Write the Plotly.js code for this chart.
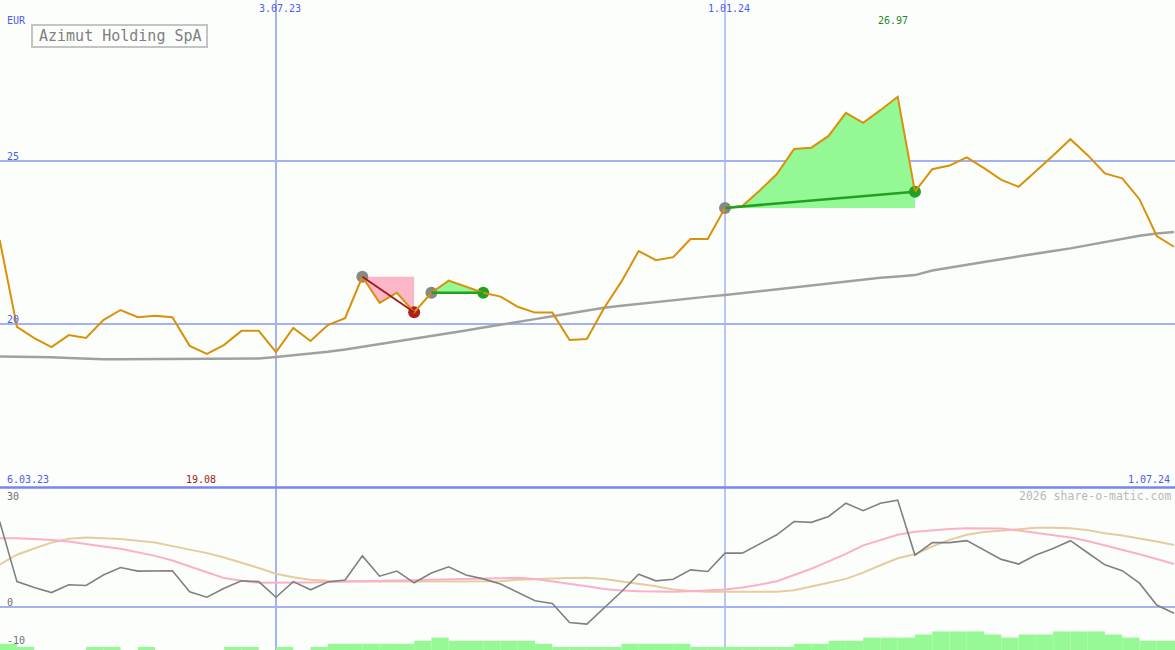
<!DOCTYPE html>
<html>
<head>
<meta charset="utf-8">
<script src="https://cdn.plot.ly/plotly-3.0.1.min.js"></script>
<style>
html,body{margin:0;padding:0;background:#fcfefc;}
#chart{width:1175px;height:650px;}
</style>
</head>
<body>
<div id="chart"></div>
<script>
// ---- data (weekly closes) ----
const dates = [
 "2023-03-13","2023-03-20","2023-03-27","2023-04-03","2023-04-10","2023-04-17","2023-04-24",
 "2023-05-01","2023-05-08","2023-05-15","2023-05-22","2023-05-29","2023-06-05","2023-06-12",
 "2023-06-19","2023-06-26","2023-07-03","2023-07-10","2023-07-17","2023-07-24","2023-07-31",
 "2023-08-07","2023-08-14","2023-08-21","2023-08-28","2023-09-04","2023-09-11","2023-09-18",
 "2023-09-25","2023-10-02","2023-10-09","2023-10-16","2023-10-23","2023-10-30","2023-11-06",
 "2023-11-13","2023-11-20","2023-11-27","2023-12-04","2023-12-11","2023-12-18","2023-12-25",
 "2024-01-01","2024-01-08","2024-01-15","2024-01-22","2024-01-29","2024-02-05","2024-02-12",
 "2024-02-19","2024-02-26","2024-03-04","2024-03-11","2024-03-18","2024-03-25","2024-04-01",
 "2024-04-08","2024-04-15","2024-04-22","2024-04-29","2024-05-06","2024-05-13","2024-05-20",
 "2024-05-27","2024-06-03","2024-06-10","2024-06-17","2024-06-24","2024-07-01"
];
const price = [
 22.58,19.91,19.57,19.29,19.66,19.57,20.12,20.43,20.21,20.25,20.21,19.33,19.08,19.36,
 19.79,19.79,19.14,19.88,19.48,19.97,20.18,21.45,20.65,20.96,20.36,20.96,21.33,21.14,
 20.96,20.84,20.53,20.35,20.35,19.51,19.54,20.49,21.30,22.24,21.96,22.05,22.61,22.61,
 23.56,23.62,24.09,24.60,25.37,25.41,25.77,26.48,26.17,26.56,26.97,24.06,24.75,24.86,
 25.11,24.78,24.42,24.21,24.68,25.17,25.67,25.18,24.62,24.47,23.83,22.70,22.37
];
const movingAvg = [
 19.00,19.00,19.00,18.98,18.96,18.93,18.92,18.92,18.92,18.92,18.92,18.92,18.92,18.92,
 18.93,18.94,18.99,19.04,19.10,19.15,19.22,19.30,19.38,19.47,19.56,19.64,19.72,19.80,
 19.89,19.97,20.06,20.15,20.24,20.33,20.42,20.50,20.56,20.62,20.67,20.73,20.78,20.84,
 20.89,20.95,21.01,21.07,21.13,21.19,21.25,21.31,21.37,21.42,21.46,21.50,21.64,21.72,
 21.82,21.90,21.99,22.08,22.16,22.24,22.32,22.42,22.52,22.62,22.71,22.78,22.82
];
const oscillator = [
 21.9,6.5,5.0,3.7,5.7,5.5,8.2,10.1,9.2,9.3,9.3,3.9,2.5,4.8,
 6.7,6.5,2.5,6.5,4.4,6.4,6.9,13.1,7.9,9.2,6.2,8.7,10.3,8.2,
 7.2,5.9,3.8,1.6,0.9,-4.0,-4.4,-0.3,3.9,8.4,6.7,7.1,9.5,9.1,
 13.8,13.8,16.2,18.5,21.9,21.7,23.2,26.6,24.7,26.6,27.4,13.3,16.5,16.5,
 17.0,14.6,12.2,11.0,13.3,15.0,17.0,13.9,10.8,9.3,6.1,0.5,-1.6
];
const signalPink = [
 17.6,17.6,17.4,17.2,16.8,16.1,15.5,14.9,14.0,13.1,11.9,10.3,8.9,7.4,
 6.7,6.2,6.2,6.2,6.3,6.4,6.5,6.6,6.7,6.8,6.9,7.0,7.1,7.2,
 7.3,7.4,7.5,7.2,6.6,6.0,5.3,4.6,4.2,4.0,3.9,3.9,4.0,4.2,
 4.5,5.0,5.7,6.6,8.2,9.8,11.7,13.6,15.8,17.2,18.5,19.3,19.7,20.0,
 20.2,20.2,20.1,19.6,19.0,18.4,17.8,16.9,15.8,14.6,13.5,12.3,11.0
];
const signalTan = [
 10.9,13.4,15.0,16.5,17.5,17.8,17.6,17.4,17.0,16.5,15.6,14.7,13.8,12.7,
 11.4,10.0,8.5,7.6,7.0,6.7,6.6,6.5,6.5,6.5,6.5,6.5,6.5,6.5,
 6.5,6.6,7.0,7.2,7.3,7.4,7.5,7.2,6.6,5.9,5.3,4.5,4.1,3.9,
 3.9,3.9,3.9,3.9,4.3,5.2,6.2,7.2,8.8,10.7,12.5,13.5,15.5,17.2,
 18.5,19.2,19.6,20.0,20.3,20.3,20.2,19.7,18.9,18.3,17.6,16.8,15.9
];
const volume = [
 2,1,0,0,0,1,1,0,1,0,0,0,0,1,1,0,1,0,1,2,2,2,2,2,3,4,3,3,3,3,3,2,
 1,1,1,1,2,2,2,2,1,1,1,1,1,1,2,2,3,3,4,4,4,5,6,6,6,5,4,5,5,6,6,6,5,4,3,3,3
];
const tradeStart = [21, 25, 42];
const tradeEnd   = [24, 28, 53];
const labels = {
  currency: "EUR", name: "Azimut Holding SpA",
  topTicks: ["3.07.23", "1.01.24"], priceTicks: ["25", "20"],
  startDate: "6.03.23", endDate: "1.07.24", maxLabel: "26.97", minLabel: "19.08",
  lowerTicks: ["30", "0", "-10"], credit: "2026 share-o-matic.com"
};

// ---- build traces ----
const W = 1175, H = 650;
const MONO = "DejaVu Sans Mono, monospace";
const traces = [];

// trade fills
tradeStart.forEach((s, i) => {
  const e = tradeEnd[i];
  const xs = [], ys = [];
  for (let k = s; k <= e; k++) { xs.push(dates[k]); ys.push(price[k]); }
  xs.push(dates[e]); ys.push(price[s]);
  xs.push(dates[s]); ys.push(price[s]);
  const gain = price[e] >= price[s];
  traces.push({x: xs, y: ys, type: 'scatter', mode: 'lines', fill: 'toself',
    fillcolor: gain ? '#94f894' : '#fbb6c8', line: {width: 0}, hoverinfo: 'skip',
    xaxis: 'x', yaxis: 'y'});
});

// long moving average
traces.push({x: dates, y: movingAvg, type: 'scatter', mode: 'lines',
  line: {color: '#a0a0a0', width: 2.5}, xaxis: 'x', yaxis: 'y'});

// trade markers
const mx = [], my = [], mc = [];
tradeStart.forEach((s, i) => {
  const e = tradeEnd[i];
  mx.push(dates[s]); my.push(price[s]); mc.push('#888888');
  mx.push(dates[e]); my.push(price[e]); mc.push(price[e] >= price[s] ? '#22a022' : '#b02020');
});
traces.push({x: mx, y: my, type: 'scatter', mode: 'markers',
  marker: {size: 12, color: mc, line: {width: 0}}, xaxis: 'x', yaxis: 'y'});

// price line
traces.push({x: dates, y: price, type: 'scatter', mode: 'lines',
  line: {color: '#d8920a', width: 2}, xaxis: 'x', yaxis: 'y'});

// trade connectors
tradeStart.forEach((s, i) => {
  const e = tradeEnd[i];
  const gain = price[e] >= price[s];
  traces.push({x: [dates[s], dates[e]], y: [price[s], price[e]], type: 'scatter', mode: 'lines',
    line: {color: gain ? '#22a022' : '#a01c1c', width: gain ? 2.5 : 2}, xaxis: 'x', yaxis: 'y'});
});

// lower panel
traces.push({x: dates.slice(0, volume.length), y: volume, type: 'bar',
  offset: 0, width: 7 * 86400000, marker: {color: '#96f996', line: {width: 0}},
  xaxis: 'x', yaxis: 'y3'});
traces.push({x: dates, y: signalTan, type: 'scatter', mode: 'lines',
  line: {color: '#e4cc9c', width: 2}, xaxis: 'x', yaxis: 'y2'});
traces.push({x: dates, y: signalPink, type: 'scatter', mode: 'lines',
  line: {color: '#fbb0c8', width: 2}, xaxis: 'x', yaxis: 'y2'});
traces.push({x: dates, y: oscillator, type: 'scatter', mode: 'lines',
  line: {color: '#808080', width: 1.6}, xaxis: 'x', yaxis: 'y2'});

// ---- layout ----
const px = (x) => x / W, py = (y) => 1 - y / H;
const ann = (text, x, y, anchor, color, size) => ({
  text, x: px(x), y: py(y), xref: 'paper', yref: 'paper', xanchor: anchor, yanchor: 'middle',
  showarrow: false, font: {family: MONO, size: size || 10, color: color || '#4a5cf2'}
});
const grid = '#a4b2f2';
const shapes = [
  {type: 'line', xref: 'x', yref: 'paper', x0: '2023-07-03', x1: '2023-07-03', y0: 0, y1: 1,
   line: {color: grid, width: 2}, layer: 'below'},
  {type: 'line', xref: 'x', yref: 'paper', x0: '2024-01-01', x1: '2024-01-01', y0: 0, y1: 1,
   line: {color: grid, width: 1.5}, layer: 'below'},
  {type: 'line', xref: 'paper', yref: 'y', x0: 0, x1: 1, y0: 25, y1: 25,
   line: {color: grid, width: 2}, layer: 'below'},
  {type: 'line', xref: 'paper', yref: 'y', x0: 0, x1: 1, y0: 20, y1: 20,
   line: {color: grid, width: 2}, layer: 'below'},
  {type: 'line', xref: 'paper', yref: 'y2', x0: 0, x1: 1, y0: 0, y1: 0,
   line: {color: grid, width: 2}, layer: 'below'},
  {type: 'line', xref: 'paper', yref: 'paper', x0: 0, x1: 1, y0: py(487.5), y1: py(487.5),
   line: {color: '#7886ee', width: 2.5}, layer: 'above'},
  {type: 'rect', xref: 'paper', yref: 'paper', x0: px(32), x1: px(207), y0: py(47), y1: py(25),
   line: {color: '#c4c4c4', width: 2}, fillcolor: '#fcfefc', layer: 'below'}
];
const annotations = [
  ann(labels.currency, 5, 20, 'left'),
  ann(labels.topTicks[0], 280, 9, 'center'),
  ann(labels.topTicks[1], 729, 9, 'center'),
  ann(labels.maxLabel, 893, 20, 'center', '#1e8a1e'),
  ann(labels.priceTicks[0], 5, 156, 'left'),
  ann(labels.priceTicks[1], 5, 319, 'left'),
  ann(labels.startDate, 5, 479, 'left'),
  ann(labels.minLabel, 201, 479, 'center', '#a01c1c'),
  ann(labels.endDate, 1172, 479, 'right'),
  ann(labels.credit, 1173, 496, 'right', '#b8b8b8', 11.5),
  ann(labels.lowerTicks[0], 5, 496, 'left', '#707070'),
  ann(labels.lowerTicks[1], 5, 602, 'left', '#707070'),
  ann(labels.lowerTicks[2], 5, 640, 'left', '#707070'),
  ann(labels.name, 37, 36.5, 'left', '#808080', 15)
];
const hidden = {showgrid: false, zeroline: false, showticklabels: false, ticks: '', showline: false, fixedrange: true};
const layout = {
  width: W, height: H, margin: {l: 0, r: 0, t: 0, b: 0, pad: 0},
  paper_bgcolor: '#fcfefc', plot_bgcolor: '#fcfefc', showlegend: false,
  hovermode: false,
  xaxis: Object.assign({type: 'date', range: ['2023-03-13 03:00', '2024-07-01 09:36'], anchor: 'y2'}, hidden),
  yaxis: Object.assign({domain: [163 / H, 1], range: [15.0, 29.94]}, hidden),
  yaxis2: Object.assign({domain: [0, 162 / H], range: [-11.03, 30.5]}, hidden),
  yaxis3: Object.assign({overlaying: 'y2', range: [0, 52.3]}, hidden),
  shapes, annotations
};
Plotly.newPlot('chart', traces, layout, {displayModeBar: false, staticPlot: true});
</script>
</body>
</html>
